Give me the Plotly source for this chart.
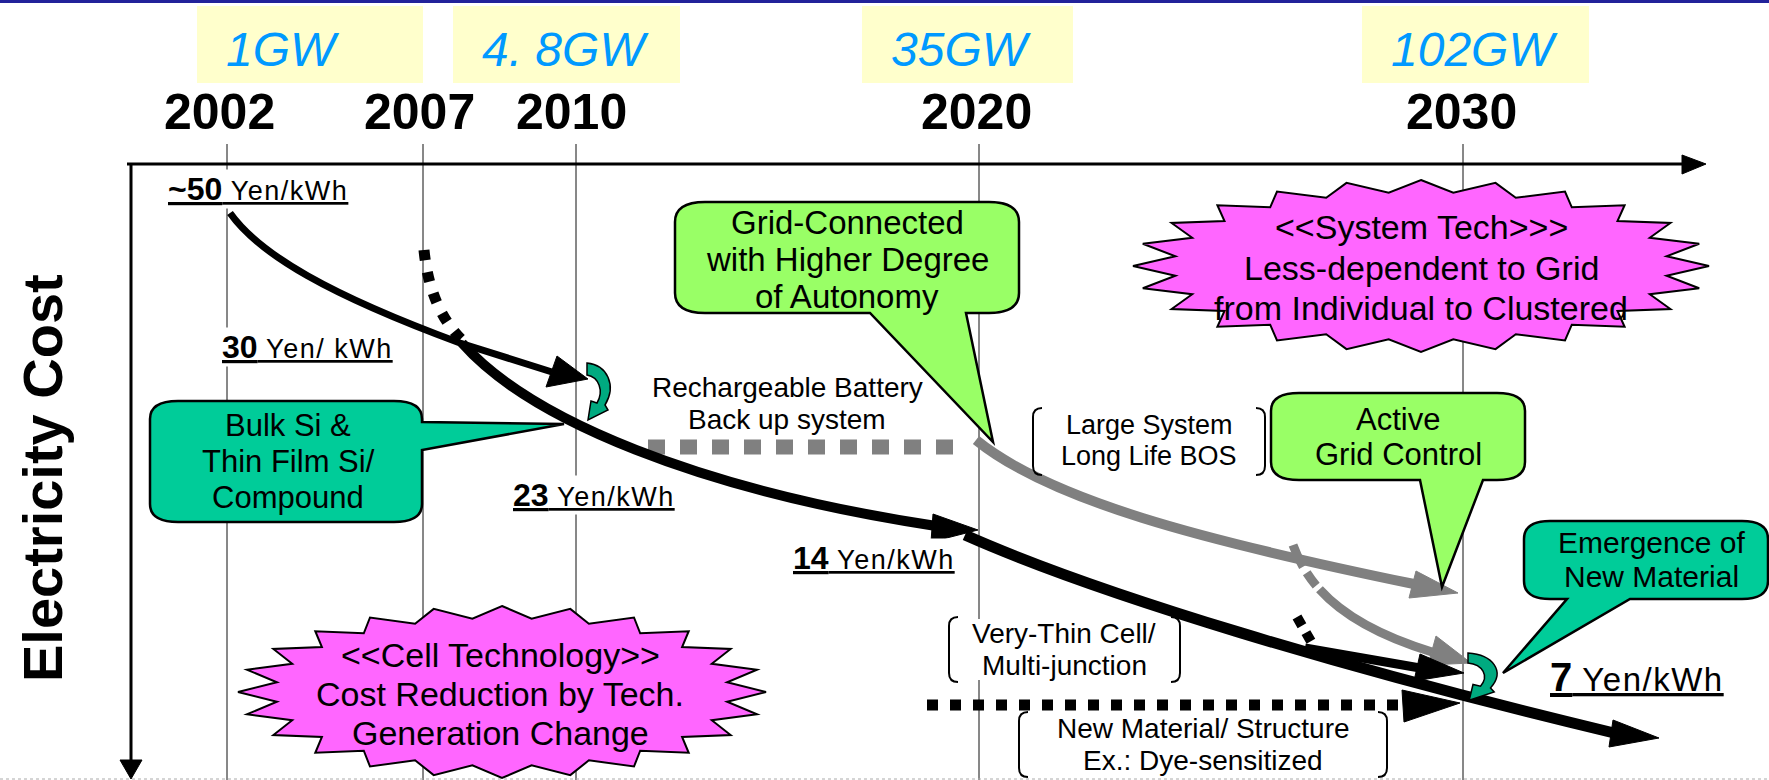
import math
import plotly.graph_objects as go

W, H = 1769, 780

# ---------------- data ----------------
years = [2002, 2007, 2010, 2020, 2030]
capacity_labels = ["1GW", "4. 8GW", "35GW", "102GW"]
cost_values = ["~50", "30", "23", "14", "7"]
cost_units = ["Yen/kWh", "Yen/ kWh", "Yen/kWh", "Yen/kWh", "Yen/kWh"]
axis_title = "Electricity Cost"
grid_callout = ["Grid-Connected", "with Higher Degree", "of Autonomy"]
bulk_callout = ["Bulk Si &", "Thin Film Si/", "Compound"]
active_callout = ["Active", "Grid Control"]
emergence_callout = ["Emergence of", "New Material"]
system_star = ["<<System Tech>>>", "Less-dependent to Grid", "from Individual to Clustered"]
cell_star = ["<<Cell Technology>>", "Cost Reduction by Tech.", "Generation Change"]
battery_note = ["Rechargeable Battery", "Back up system"]
bos_note = ["Large System", "Long Life BOS"]
thin_note = ["Very-Thin Cell/", "Multi-junction"]
material_note = ["New Material/ Structure", "Ex.: Dye-sensitized"]

# ---------------- layout positions (pixels) ----------------
YEAR_X = [227, 423, 576, 979, 1463]
YEAR_LABEL_SHIFT = [-8, -4, -5, -3, -2]
CAP_BOX_X = [(197, 423), (453, 680), (862, 1073), (1362, 1589)]
COST_POS = [(166, 189), (220, 347), (511, 495), (791, 558), (1548, 677)]

FONT = "Liberation Sans, Arial, sans-serif"
GREEN = "#99ff66"
TEAL = "#00cc99"
MAGENTA = "#ff66ff"
GREY = "#808080"

shapes = []
annotations = []


def add_shape(**kw):
    kw.setdefault("xref", "x")
    kw.setdefault("yref", "y")
    shapes.append(kw)


def path_shape(path, color="black", width=2, fill="rgba(0,0,0,0)", dash=None):
    line = dict(color=color, width=width)
    if dash:
        line["dash"] = dash
    add_shape(type="path", path=path, line=line, fillcolor=fill)


def tri(a, b, c, color="black"):
    p = f"M {a[0]},{a[1]} L {b[0]},{b[1]} L {c[0]},{c[1]} Z"
    path_shape(p, color=color, width=1, fill=color)


def ann(x, y, text, size, color="black", xanchor="center", yanchor="middle",
        angle=0, bg=None, family=FONT):
    d = dict(x=x, y=y, xref="x", yref="y", text=text, showarrow=False,
             font=dict(family=family, size=size, color=color),
             xanchor=xanchor, yanchor=yanchor, textangle=angle)
    if bg:
        d["bgcolor"] = bg
    annotations.append(d)


def callout_path(x0, y0, x1, y1, rx, ry, tail=None):
    p = [f"M {x0+rx},{y0}", f"L {x1-rx},{y0}", f"Q {x1},{y0} {x1},{y0+ry}"]
    if tail and tail[0] == "right":
        _, ya, yb, tx, ty = tail
        p += [f"L {x1},{ya}", f"L {tx},{ty}", f"L {x1},{yb}"]
    p += [f"L {x1},{y1-ry}", f"Q {x1},{y1} {x1-rx},{y1}"]
    if tail and tail[0] == "bottom":
        _, xa, xb, tx, ty = tail
        p += [f"L {xb},{y1}", f"L {tx},{ty}", f"L {xa},{y1}"]
    p += [f"L {x0+rx},{y1}", f"Q {x0},{y1} {x0},{y1-ry}",
          f"L {x0},{y0+ry}", f"Q {x0},{y0} {x0+rx},{y0}", "Z"]
    return " ".join(p)


def star_path(cx, cy, rx, ry, n=24, k=0.86):
    pts = []
    for i in range(2 * n):
        a = -math.pi / 2 + i * math.pi / n
        r = 1 if i % 2 == 0 else k
        pts.append((cx + rx * r * math.cos(a), cy + ry * r * math.sin(a)))
    return "M " + " L ".join(f"{x:.1f},{y:.1f}" for x, y in pts) + " Z"


def bracket_path(x0, y0, x1, y1, c=9):
    return (f"M {x0+c},{y0} Q {x0},{y0} {x0},{y0+c} L {x0},{y1-c} Q {x0},{y1} {x0+c},{y1} "
            f"M {x1-c},{y0} Q {x1},{y0} {x1},{y0+c} L {x1},{y1-c} Q {x1},{y1} {x1-c},{y1}")


def curl_path(x0, y0, sx, sy):
    base = [("M", [(0, 0)]), ("C", [(20, 2), (30, 22), (18, 42)]), ("L", [(21, 47)]),
            ("L", [(1, 57)]), ("L", [(4, 38)]), ("L", [(10, 40)]),
            ("C", [(17, 28), (12, 14), (0, 12)])]
    out = []
    for cmd, pts in base:
        out.append(cmd + " " + " ".join(f"{x0+px*sx:.1f},{y0+py*sy:.1f}" for px, py in pts))
    return " ".join(out) + " Z"


# ---------------- background elements ----------------
add_shape(type="rect", x0=0, x1=W, y0=0, y1=3, line=dict(width=0), fillcolor="#22229a")
for (bx0, bx1), lab in zip(CAP_BOX_X, capacity_labels):
    add_shape(type="rect", x0=bx0, x1=bx1, y0=6, y1=83, line=dict(width=0), fillcolor="#ffffcc")
    ann(bx0 + 27, 49, f"<i>{lab}</i>", 48, color="#0099ff", xanchor="left")

for yx, sh, yr in zip(YEAR_X, YEAR_LABEL_SHIFT, years):
    add_shape(type="line", x0=yx, x1=yx, y0=144, y1=780, line=dict(color="#111111", width=1))
    ann(yx + sh, 112, f"<b>{yr}</b>", 50)

add_shape(type="line", x0=0, x1=W, y0=779, y1=779, line=dict(color="#aaaaaa", width=1, dash="dot"))

# axes
add_shape(type="line", x0=127, x1=1686, y0=164, y1=164, line=dict(color="black", width=3))
tri((1682, 155), (1682, 174), (1706, 164))
add_shape(type="line", x0=131, x1=131, y0=163, y1=762, line=dict(color="black", width=3))
tri((120, 760), (142, 760), (131, 779))
ann(42, 478, f"<b>{axis_title}</b>", 56, angle=-90)

# Bulk Si callout (below the curves)
path_shape(callout_path(150, 401, 422, 522, 28, 18, ("right", 422, 450, 564, 424)),
           color="black", width=2.5, fill=TEAL)
for t, yy in zip(bulk_callout, [425, 461, 497]):
    ann(288, yy, t, 31)

# white backing of the bracket note crossing the 2020 line
add_shape(type="rect", x0=951, x1=1178, y0=619, y1=680, line=dict(width=0), fillcolor="white")

# starbursts
path_shape(star_path(1421, 266, 288, 86), color="black", width=2, fill=MAGENTA)
for t, yy in zip(system_star, [227, 268, 308]):
    ann(1421, yy, t, 34)
path_shape(star_path(502, 692, 264, 86), color="black", width=2, fill=MAGENTA)
for t, yy in zip(cell_star, [655, 694, 733]):
    ann(500, yy, t, 34)

# ---------------- grey system-technology paths ----------------
add_shape(type="line", x0=648, x1=959, y0=447, y1=447,
          line=dict(color=GREY, width=15, dash="17px,15px"))
path_shape("M 976,440 C 1050,500 1200,540 1414,584", color=GREY, width=10)
tri((1416, 571), (1409, 598), (1458, 593), color=GREY)
path_shape("M 1293,545 C 1310,592 1350,627 1432,652", color=GREY, width=9,
           dash="24px,7px,16px,5px,600px")
tri((1436, 636), (1428, 665), (1471, 663), color=GREY)

# ---------------- black cell-technology paths ----------------
path_shape("M 230,213 C 260,255 330,295 460,343 L 552,372", color="black", width=7)
tri((557, 356), (546, 387), (588, 379))
path_shape("M 424,250 Q 430,310 464,342", color="black", width=11, dash="10px,12px")
path_shape("M 462,343 C 530,420 700,490 936,526", color="black", width=10)
tri((933, 514), (931, 542), (978, 530))
path_shape("M 965,535 C 1100,595 1350,670 1614,733", color="black", width=11)
tri((1613, 720), (1609, 747), (1659, 738))
path_shape("M 1297,617 L 1313,645", color="black", width=10, dash="10px,8px")
path_shape("M 1305,648 L 1420,668", color="black", width=9)
tri((1420, 654), (1414, 681), (1464, 673))
add_shape(type="line", x0=927, x1=1400, y0=705, y1=705,
          line=dict(color="black", width=11, dash="11px,12px"))
tri((1402, 690), (1404, 722), (1460, 703))

# ---------------- callouts ----------------
path_shape(callout_path(675, 202, 1019, 313, 30, 20, ("bottom", 870, 966, 993, 442)),
           color="black", width=2.5, fill=GREEN)
for t, yy in zip(grid_callout, [222, 259, 296]):
    ann(847, yy, t, 33)

path_shape(callout_path(1271, 393, 1525, 480, 28, 18, ("bottom", 1420, 1483, 1442, 587)),
           color="black", width=2.5, fill=GREEN)
for t, yy in zip(active_callout, [419, 454]):
    ann(1398, yy, t, 31)

path_shape(callout_path(1524, 521, 1768, 599, 26, 18, ("bottom", 1567, 1630, 1503, 673)),
           color="black", width=2.5, fill=TEAL)
for t, yy in zip(emergence_callout, [542, 576]):
    ann(1651, yy, t, 30)

path_shape(curl_path(587, 363, 1.0, 1.0), color="black", width=1.5, fill="#00aa80")
path_shape(curl_path(1468, 653, 1.25, 0.83), color="black", width=1.5, fill="#00aa80")

# bracket notes
path_shape(bracket_path(1033, 408, 1265, 475), color="black", width=2)
for t, yy in zip(bos_note, [425, 456]):
    ann(1149, yy, t, 27)
path_shape(bracket_path(949, 617, 1180, 682), color="black", width=2)
for t, yy in zip(thin_note, [633, 665]):
    ann(1064, yy, t, 28)
path_shape(bracket_path(1019, 712, 1387, 777), color="black", width=2)
for t, yy in zip(material_note, [728, 760]):
    ann(1203, yy, t, 28)

for t, yy in zip(battery_note, [387, 419]):
    ann(787, yy, t, 28)

# ---------------- cost labels ----------------
for i, ((cx, cy), val, unit) in enumerate(zip(COST_POS, cost_values, cost_units)):
    big, small = (40, 33) if i == len(cost_values) - 1 else (32, 27)
    txt = (f"<u><b><span style='font-size:{big}px'>{val}</span></b>"
           f"<span style='font-size:{small}px;letter-spacing:1.5px'> {unit}</span></u>")
    ann(cx, cy, txt, big, xanchor="left", bg="white")

fig = go.Figure()
fig.add_trace(go.Scatter(x=[0, W], y=[0, H], mode="markers",
                         marker=dict(opacity=0), hoverinfo="skip", showlegend=False))
fig.update_layout(
    width=W, height=H, margin=dict(l=0, r=0, t=0, b=0),
    paper_bgcolor="white", plot_bgcolor="white",
    xaxis=dict(range=[0, W], visible=False, fixedrange=True),
    yaxis=dict(range=[H, 0], visible=False, fixedrange=True),
    shapes=shapes, annotations=annotations, showlegend=False,
)
fig.write_html("out.html", config={"displayModeBar": False},
               post_script="document.body.style.margin='0px';")
